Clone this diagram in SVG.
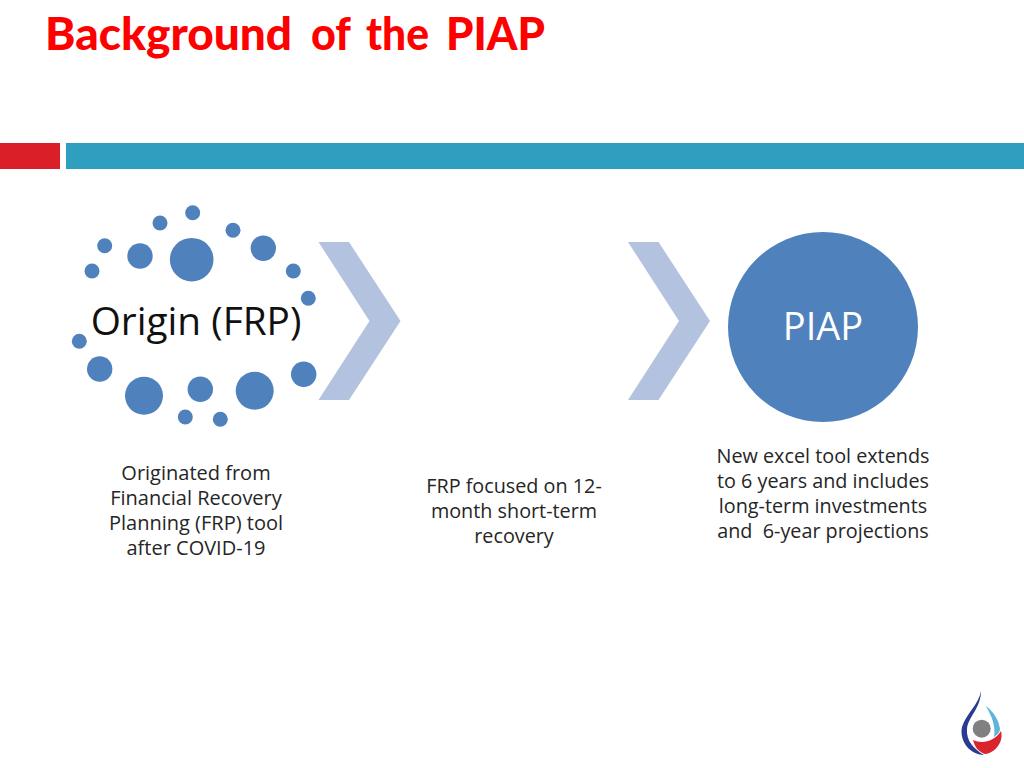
<svg xmlns="http://www.w3.org/2000/svg" width="1024" height="768" viewBox="0 0 1024 768">
<style>
.d{fill:#4f81bd}
.c{fill:#b3c2de}
.t{font-family:"Open Sans","Noto Sans",sans-serif;font-size:19.800px;fill:#262626;text-anchor:middle}
.o{font-size:20px}
</style>
<defs><polygon id="chev" class="c" points="318.500,242 349,242 400.500,321 349,400 318.500,400 369.500,321"/></defs>
<rect width="1024" height="768" fill="#fff"/>
<text y="49.500" font-family="Lato,'Liberation Sans',sans-serif" font-weight="900" font-size="46" fill="#f00"><tspan x="45" textLength="247" lengthAdjust="spacingAndGlyphs">Background</tspan> <tspan x="311" textLength="39" lengthAdjust="spacingAndGlyphs">of</tspan> <tspan x="366" textLength="63" lengthAdjust="spacingAndGlyphs">the</tspan> <tspan x="446" textLength="99" lengthAdjust="spacingAndGlyphs">PIAP</tspan></text>
<rect x="0" y="143" width="60" height="26" fill="#da1f28"/>
<rect x="66" y="143" width="958" height="26" fill="#2e9fbf"/>
<g id="origin">
<circle class="d" cx="192.700" cy="212.700" r="7.500"/><circle class="d" cx="160" cy="223" r="7.500"/><circle class="d" cx="233" cy="230.300" r="7.500"/><circle class="d" cx="104.700" cy="245.700" r="7.500"/><circle class="d" cx="92" cy="271" r="7.500"/><circle class="d" cx="140" cy="256" r="12.700"/><circle class="d" cx="191.700" cy="259.700" r="21.800"/><circle class="d" cx="263.300" cy="248.300" r="12.700"/><circle class="d" cx="293.300" cy="271" r="7.500"/><circle class="d" cx="308.300" cy="298.300" r="7.500"/><circle class="d" cx="79.300" cy="341.300" r="7.500"/><circle class="d" cx="99.700" cy="369" r="12.700"/><circle class="d" cx="144" cy="395.700" r="19"/><circle class="d" cx="200.300" cy="389.300" r="12.700"/><circle class="d" cx="254.700" cy="390.700" r="19"/><circle class="d" cx="303.700" cy="374.300" r="12.700"/><circle class="d" cx="185.300" cy="417" r="7.500"/><circle class="d" cx="220.300" cy="419.300" r="7.500"/>
<text x="196" y="334.500" font-family="'Open Sans','Noto Sans',sans-serif" font-size="38.800" fill="#111" text-anchor="middle">Origin (FRP)</text>
</g>
<g id="connectors">
<use href="#chev"/>
<use href="#chev" x="309.500"/>
</g>
<g id="piap">
<circle cx="823" cy="327" r="95" fill="#4f81bd"/>
<text x="823" y="339.500" font-family="'Open Sans','Noto Sans',sans-serif" font-size="38" fill="#fff" text-anchor="middle">PIAP</text>
</g>
<g id="text-origin">
<text class="t o" x="196" y="480">Originated from</text><text class="t o" x="196" y="505">Financial Recovery</text><text class="t o" x="196" y="530">Planning (FRP) tool</text><text class="t o" x="196" y="555">after COVID-19</text>
</g>
<g id="text-frp">
<text class="t" x="514" y="493">FRP focused on 12-</text><text class="t" x="514" y="518">month short-term</text><text class="t" x="514" y="543">recovery</text>
</g>
<g id="text-piap">
<text class="t" x="823" y="463">New excel tool extends</text><text class="t" x="823" y="488">to 6 years and includes</text><text class="t" x="823" y="513">long-term investments</text><text class="t" x="823" y="538" xml:space="preserve">and  6-year projections</text>
</g>
<g id="logo">
<path d="M981 691C979 704 966 714 962 727C959 741 970 755 984 755C974 749 966 741 967 729C968 717 981 708 981 691Z" fill="#2a3b93"/>
<path d="M973 740C982 744 994 742 1001 731C1004 742 995 753 985 754C979 752 975 748 973 740Z" fill="#d9262e"/>
<path d="M985.700 706C993 711 999 720 1000 729C1000 732 997 735 994 737C996 727 992 716 985.700 706Z" fill="#5db4dc"/>
<circle cx="981.700" cy="728.700" r="9" fill="#808080"/>
</g>
</svg>
